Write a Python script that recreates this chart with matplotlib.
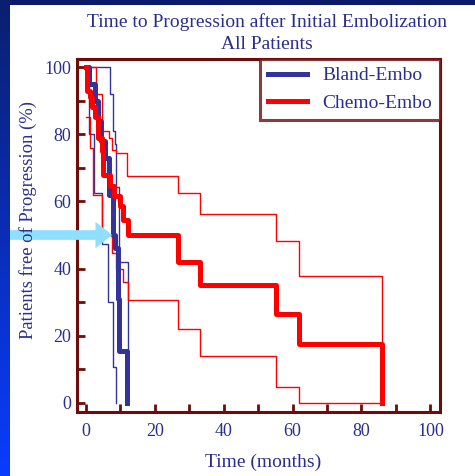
import matplotlib
matplotlib.use("Agg")
import matplotlib.pyplot as plt
import numpy as np

# Kaplan-Meier curves (time in months, % free of progression)
bland_t = [0, 1.0, 2.6, 3.5, 4.5, 5.5, 6.8, 7.8, 8.5, 9.2, 9.6, 12.0]
bland_s = [100, 95, 90, 84, 78, 73, 62, 50, 46, 31, 15.5, 0]
bland_up_t = [0, 7.0, 7.9, 8.4, 8.7, 9.7, 12.1]
bland_up_s = [100, 92, 81, 77, 64.4, 42, 0]
bland_lo_t = [0, 1.0, 2.2, 4.6, 6.5, 7.8, 8.7]
bland_lo_s = [100, 80, 62.4, 47.3, 30.1, 10.8, 0]

chemo_t = [0, 0.3, 1.2, 1.7, 2.6, 3.6, 4.6, 5.0, 7.0, 8.0, 9.9, 10.8, 12.3, 26.6, 33.1, 55.1, 62.0, 86.0]
chemo_s = [100, 93, 91, 88, 85, 79, 75, 68, 64.5, 61.5, 58.5, 54.5, 50, 42, 35, 26.5, 17.5, 0]
chemo_up_t = [0, 2.9, 4.8, 6.8, 7.5, 8.7, 11.8, 26.7, 33.1, 55.1, 62.0, 86.0]
chemo_up_s = [100, 92, 81, 79, 75.3, 74.5, 67.5, 62.4, 56.2, 48.2, 37.9, 17.5]
chemo_lo_t = [0, 1.2, 2.1, 4.7, 7.5, 8.7, 10.7, 12.1, 26.7, 33.1, 55.1, 62.0, 86.0]
chemo_lo_s = [85, 76, 62, 50, 44.5, 40, 36, 30.7, 21.9, 14.1, 4.6, 0, 0]

xticks = [0, 20, 40, 60, 80, 100]
yticks = [0, 20, 40, 60, 80, 100]

navy = '#2B2F8C'
maroon = '#6E0B0B'
blue = '#333399'
red = '#FF0000'
serif = ['Liberation Serif', 'DejaVu Serif']

plt.rcParams['font.family'] = serif

fig = plt.figure(figsize=(4.75, 4.76), dpi=100)
fig.patch.set_facecolor('white')

# slide border: navy band on top, gradient band on the left
top = fig.add_axes([0, 1 - 5 / 476, 1, 5 / 476])
top.set_facecolor('#0B1A6B')
top.set_xticks([]); top.set_yticks([])
for s in top.spines.values():
    s.set_visible(False)

ax = fig.add_axes([77 / 475, 1 - 412 / 476, (440 - 77) / 475, (412 - 59) / 476])

ax.step(bland_up_t, bland_up_s, where='post', color=blue, lw=1.0)
ax.step(bland_lo_t, bland_lo_s, where='post', color=blue, lw=1.0)
ax.step(chemo_up_t, chemo_up_s, where='post', color=red, lw=1.0)
ax.step(chemo_lo_t, chemo_lo_s, where='post', color=red, lw=1.0)
ax.step(bland_t, bland_s, where='post', color=blue, lw=3.6, label='Bland-Embo')
ax.step(chemo_t, chemo_s, where='post', color=red, lw=3.6, label='Chemo-Embo')

ax.set_xlim(-2.6, 102.8)
ax.set_ylim(-2.7, 102.4)
ax.set_xticks(xticks)
ax.set_yticks(yticks)
ax.set_xticks(np.arange(10, 100, 20), minor=True)
ax.set_yticks(np.arange(10, 100, 20), minor=True)
ax.tick_params(which='both', direction='in', color=maroon, width=2.0, length=6,
               labelcolor=navy, labelsize=13)
ax.tick_params(axis='x', pad=8)
ax.tick_params(axis='y', pad=4)
for s in ax.spines.values():
    s.set_color(maroon)
    s.set_linewidth(2.2)

leg = ax.legend(loc='upper right', borderaxespad=0, frameon=True, fancybox=False,
                fontsize=14, handlelength=2.0, labelcolor=navy)
leg.get_frame().set_edgecolor(maroon)
leg.get_frame().set_linewidth(2.2)

fig.text(267 / 475, 1 - 13 / 476, 'Time to Progression after Initial Embolization\nAll Patients',
         ha='center', va='top', fontsize=14, color=navy, linespacing=1.4)
fig.text(263 / 475, 1 - 462 / 476, 'Time (months)', ha='center', va='center',
         fontsize=14, color=navy)
fig.text(28 / 475, 1 - 220 / 476, 'Patients free of Progression (%)', ha='center',
         va='center', rotation=90, fontsize=13.4, color=navy)

# light blue arrow pointing at the 50% line
ax.annotate('', xy=(7.6, 50), xycoords='data', xytext=(6 / 475, 50),
            textcoords=('figure fraction', 'data'), annotation_clip=False,
            arrowprops=dict(arrowstyle='simple,head_length=12,head_width=19,tail_width=7',
                            mutation_scale=1, fc='#8FE0FF', ec='none',
                            shrinkA=0, shrinkB=0))

# left gradient band drawn last so it sits over the arrow tail
side = fig.add_axes([0, 0, 10 / 475, 1])
grad = np.linspace(0, 1, 256).reshape(-1, 1)
cmap = matplotlib.colors.LinearSegmentedColormap.from_list('band', ['#0A1F70', '#0A3CFF'])
side.imshow(grad, aspect='auto', cmap=cmap, origin='upper')
side.axis('off')

fig.savefig('out.png', dpi=100)
